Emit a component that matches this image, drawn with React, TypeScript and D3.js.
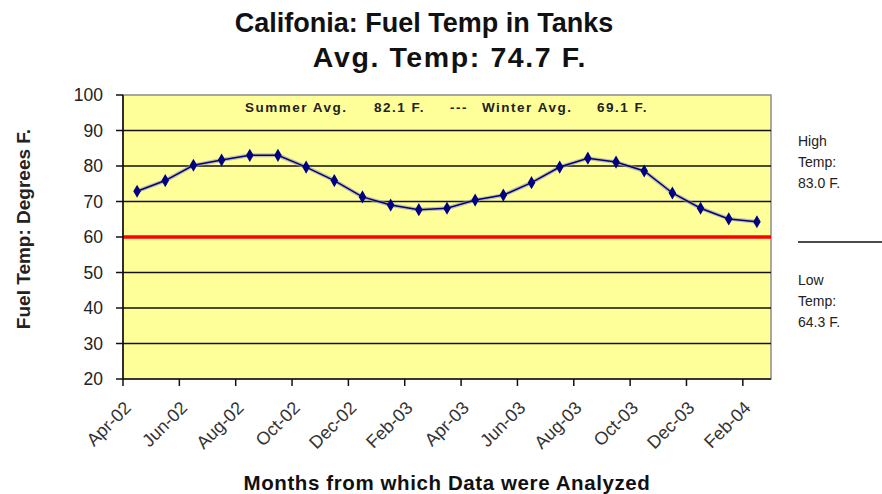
import * as d3 from 'd3'

const months = ['Apr-02', 'May-02', 'Jun-02', 'Jul-02', 'Aug-02', 'Sep-02', 'Oct-02', 'Nov-02', 'Dec-02',
  'Jan-03', 'Feb-03', 'Mar-03', 'Apr-03', 'May-03', 'Jun-03', 'Jul-03', 'Aug-03', 'Sep-03', 'Oct-03',
  'Nov-03', 'Dec-03', 'Jan-04', 'Feb-04']
const temps = [72.9, 75.9, 80.2, 81.7, 83.0, 83.0, 79.7, 75.9, 71.3, 69.0, 67.7, 68.1, 70.4, 71.8,
  75.3, 79.7, 82.2, 81.1, 78.6, 72.4, 68.1, 65.1, 64.3]
const yTicks = [20, 30, 40, 50, 60, 70, 80, 90, 100]
const limitTemp = 60
const titleLines = ['Califonia: Fuel Temp in Tanks', 'Avg. Temp: 74.7 F.']
const seasonNote = ['Summer Avg.', '82.1 F.', '---', 'Winter Avg.', '69.1 F.']
const seasonNoteX = [245, 374, 450, 482, 597]
const highNote = ['High', 'Temp:', '83.0 F.']
const lowNote = ['Low', 'Temp:', '64.3 F.']

export default function App() {
  const W = 882, H = 494
  const left = 123, right = 771, top = 95, bottom = 379

  const x = d3.scaleBand<string>().domain(months).range([left, right]).padding(0)
  const y = d3.scaleLinear().domain([20, 100]).range([bottom, top])
  const cx = (m: string) => (x(m) as number) + x.bandwidth() / 2

  const line = d3.line<number>()
    .x((_, i) => cx(months[i]))
    .y(d => y(d))

  const diamond = d3.symbol().type(d3.symbolDiamond).size(50)()

  const tickIdx = d3.range(0, months.length + 1, 2)

  return (
    <svg width={W} height={H} style={{ position: 'absolute', left: 0, top: 0, fontFamily: 'Arial, "Liberation Sans", sans-serif' }}>
      <rect width={W} height={H} fill="#fff" />

      <text x={424} y={32} textAnchor="middle" fontSize={27} fontWeight="bold" fill="#111">{titleLines[0]}</text>
      <text x={450} y={67} textAnchor="middle" fontSize={28.5} fontWeight="bold" letterSpacing={1.6} fill="#111">{titleLines[1]}</text>

      <rect x={left} y={top} width={right - left} height={bottom - top} fill="#FFFF99" stroke="#8c8c8c" strokeWidth={1.5} />

      {yTicks.filter(t => t > 20 && t < 100).map(t => (
        <line key={t} x1={left} x2={right} y1={y(t)} y2={y(t)} stroke="#111" strokeWidth={1.6} />
      ))}
      <line x1={left} x2={right} y1={y(limitTemp)} y2={y(limitTemp)} stroke="#ff0000" strokeWidth={3.5} />

      <text y={112} fontSize={13.5} fontWeight="bold" letterSpacing={1.5} fill="#222">
        {seasonNote.map((s, i) => <tspan key={i} x={seasonNoteX[i]}>{s}</tspan>)}
      </text>

      <line x1={left} x2={left} y1={top} y2={bottom} stroke="#111" strokeWidth={1.6} />
      <line x1={left} x2={right} y1={bottom} y2={bottom} stroke="#111" strokeWidth={1.6} />

      {yTicks.map(t => (
        <g key={t}>
          <line x1={left - 7} x2={left} y1={y(t)} y2={y(t)} stroke="#111" strokeWidth={1.5} />
          <text x={103} y={y(t)} dy="0.35em" textAnchor="end" fontSize={17.5} fill="#222">{t}</text>
        </g>
      ))}

      {tickIdx.map(i => {
        const xx = left + i * x.bandwidth()
        return <line key={i} x1={xx} x2={xx} y1={bottom} y2={bottom + 7} stroke="#111" strokeWidth={1.5} />
      })}
      {months.map((m, i) => i % 2 === 0 ? (
        <text key={m} transform={`translate(${cx(m) - 5},${bottom + 30}) rotate(-45)`} textAnchor="end" fontSize={18} fill="#333">{m}</text>
      ) : null)}

      <path d={line(temps) || ''} fill="none" stroke="#9a9aa8" strokeOpacity={0.6} strokeWidth={4} />
      <path d={line(temps) || ''} fill="none" stroke="#000080" strokeWidth={1.5} />
      {temps.map((t, i) => (
        <path key={i} d={diamond || ''} transform={`translate(${cx(months[i])},${y(t)})`} fill="#000080" />
      ))}

      <text transform={`translate(30,229) rotate(-90)`} textAnchor="middle" fontSize={19} fontWeight="bold" fill="#222">Fuel Temp: Degrees F.</text>
      <text x={447} y={490} textAnchor="middle" fontSize={20.5} fontWeight="bold" letterSpacing={0.6} fill="#111">Months from which Data were Analyzed</text>

      {highNote.map((s, i) => (
        <text key={'h' + i} x={798} y={146 + i * 21} fontSize={14} fill="#222">{s}</text>
      ))}
      <line x1={798} x2={882} y1={242} y2={242} stroke="#111" strokeWidth={1.5} />
      {lowNote.map((s, i) => (
        <text key={'l' + i} x={798} y={285 + i * 21} fontSize={14} fill="#222">{s}</text>
      ))}
    </svg>
  )
}
